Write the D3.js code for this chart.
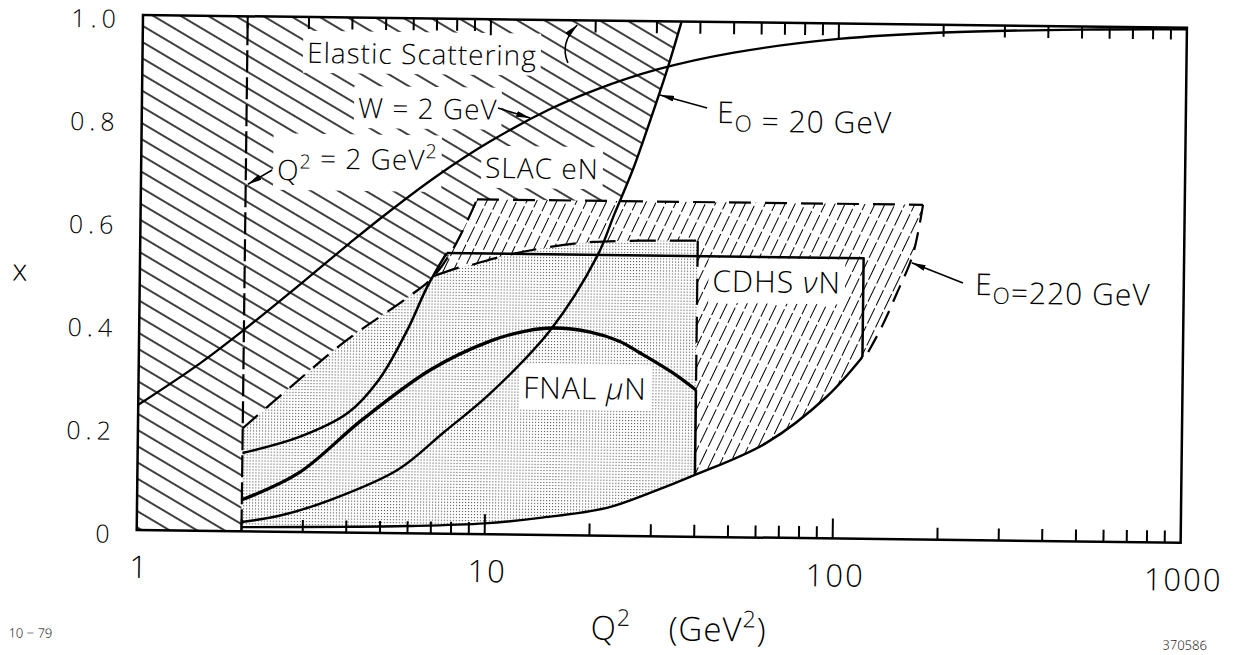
<!DOCTYPE html>
<html>
<head>
<meta charset="utf-8">
<script src="https://cdn.jsdelivr.net/npm/d3@7"></script>
<style>
  html, body { margin: 0; padding: 0; background: #fff; }
  svg { display: block; font-family: "Open Sans", "DejaVu Sans", sans-serif; font-weight: 300; }
</style>
</head>
<body>
<svg id="chart" width="1237" height="655"></svg>
<script>
// ---- axis ticks ----
const xTickValues = [0, 0.2, 0.4, 0.6, 0.8, 1.0];
const xTickLabels = ["0", "0.2", "0.4", "0.6", "0.8", "1.0"];
const q2TickValues = [1, 10, 100, 1000];
const q2TickLabels = ["1", "10", "100", "1000"];

// ---- kinematic boundaries, [Q² (GeV²), x] ----
const w2GeV = [[1,0.243],[1.5,0.325],[2,0.391],[3,0.49],[4,0.562],[5,0.616],[7,0.692],[10,0.762],
  [15,0.828],[20,0.865],[30,0.906],[50,0.941],[100,0.97],[200,0.985],[500,0.994],[1000,0.997]];
const e20GeV = [[2,0.018],[2.6,0.032],[3.6,0.063],[5.6,0.123],[7.6,0.198],[10.2,0.272],[15.2,0.398],
  [20.6,0.543],[23,0.625],[26,0.715],[29,0.81],[32,0.9],[35.3,1.0]];
const q2Cut = [[2,0],[2,1]];
const lowerBound = [[2,0.008],[4,0.011],[6,0.014],[10,0.021],[14.4,0.033],[22.4,0.054],[30,0.085],
  [40,0.12],[64,0.184],[95,0.275],[120,0.353]];
// CDHS νN: solid acceptance edge and box
const cdhsEdge = [[2,0.152],[2.9,0.184],[4,0.232],[4.9,0.297],[5.9,0.395],[6.7,0.479],[7.6,0.545]];
const cdhsBox = [[7.6,0.545],[120,0.545],[120,0.353]];
// E0 = 220 GeV dashed envelope
const envLeft = [[2,0.2],[2.67,0.275],[3.96,0.374],[5.87,0.457],[6.96,0.498],[8.1,0.565],[9.25,0.65]];
const envTop = [[9.25,0.65],[177,0.65]];
const e220GeV = [[177,0.65],[166,0.552],[150,0.478],[136,0.412],[124,0.36]];
// FNAL μN
const fnalArc = [[2,0.061],[2.9,0.114],[4.4,0.219],[6.9,0.318],[10.2,0.375],[13,0.396],[15.5,0.402],
  [19.8,0.395],[24,0.378],[27.5,0.356],[34.2,0.318],[40,0.285]];
const fnalCut = [[40,0.285],[40,0.12]];
const fnalDashed = [[7,0.5],[8.15,0.516],[8.9,0.522],[11,0.54],[14.4,0.557],[20,0.57],[40,0.575]];
const fnalDashedCut = [[40,0.575],[40,0.285]];

// ---- layout ----
const svg = d3.select("#chart");
svg.append("rect").attr("width", 1237).attr("height", 655).attr("fill", "#fff");
const root = svg.append("g").attr("transform", "rotate(0.7,143,15)");

const x = d3.scaleLog().domain([1, 1000]).range([143, 1187]);
const y = d3.scaleLinear().domain([0, 1]).range([530, 15]);

const smooth = d3.line().x(d => x(d[0])).y(d => y(d[1])).curve(d3.curveCatmullRom.alpha(0.5));
const straight = d3.line().x(d => x(d[0])).y(d => y(d[1]));
const joinPaths = (...parts) => parts.map((p, i) => i ? p.replace(/^M/, "L") : p).join("") + "Z";
const rev = a => a.slice().reverse();

// ---- fill patterns ----
const defs = svg.append("defs");
const back = defs.append("pattern").attr("id", "hatchBack").attr("patternUnits", "userSpaceOnUse")
  .attr("width", 40).attr("height", 14).attr("patternTransform", "rotate(30)");
back.append("line").attr("x1", 0).attr("x2", 40).attr("y1", 7).attr("y2", 7)
  .attr("stroke", "#000").attr("stroke-width", 1.6);

const fwd = defs.append("pattern").attr("id", "hatchFwd").attr("patternUnits", "userSpaceOnUse")
  .attr("width", 9).attr("height", 40).attr("patternTransform", "rotate(25)");
fwd.append("line").attr("x1", 4.5).attr("x2", 4.5).attr("y1", 0).attr("y2", 40)
  .attr("stroke", "#000").attr("stroke-width", 1).attr("stroke-dasharray", "17,3");

const dots = defs.append("pattern").attr("id", "stipple").attr("patternUnits", "userSpaceOnUse")
  .attr("width", 3).attr("height", 3);
dots.append("rect").attr("width", 1.1).attr("height", 1.1).attr("fill", "#555");

const marker = defs.append("marker").attr("id", "arrow").attr("viewBox", "0 0 14 6")
  .attr("refX", 14).attr("refY", 3).attr("markerWidth", 14).attr("markerHeight", 6)
  .attr("markerUnits", "userSpaceOnUse").attr("orient", "auto");
marker.append("path").attr("d", "M0,0 L14,3 L0,6 Z").attr("fill", "#000");

// ---- regions ----
const regions = root.append("g");
// Q² < 2 GeV² strip
regions.append("path").attr("d", straight([[1,0],[1,1],[2,1],[2,0]]) + "Z").attr("fill", "url(#hatchBack)");
// SLAC eN (left of the E0 = 20 GeV limit)
regions.append("path")
  .attr("d", joinPaths(straight([[2,0.2],[2,1],[35.3,1]]), smooth(rev(e20GeV)), straight([[2,0.018],[2,0.2]])))
  .attr("fill", "url(#hatchBack)");
// CDHS νN envelope
const cdhsArea = joinPaths(smooth(envLeft), straight(envTop), smooth(e220GeV),
  straight([[124,0.36],[120,0.353]]), smooth(rev(lowerBound)), straight([[2,0.008],[2,0.2]]));
regions.append("path").attr("d", cdhsArea).attr("fill", "#fff");
regions.append("path").attr("d", cdhsArea).attr("fill", "url(#hatchFwd)");
// FNAL μN stippled area
const fnalArea = joinPaths(smooth(lowerBound.filter(d => d[0] <= 40)), straight([[40,0.12],[40,0.575]]),
  smooth(rev(fnalDashed)), smooth(rev(envLeft.filter(d => d[0] <= 6.96))), straight([[2,0.2],[2,0.008]]));
regions.append("path").attr("d", fnalArea).attr("fill", "#fff");
regions.append("path").attr("d", fnalArea).attr("fill", "url(#stipple)");

// ---- annotations (text anchors in data coordinates) ----
const notes = [
  { q: 2.97, v: 0.911, size: 28, parts: [["Elastic Scattering"]] },
  { q: 4.18, v: 0.805, size: 28, parts: [["W = 2 GeV"]] },
  { q: 2.46, v: 0.683, size: 28, parts: [["Q"], ["2", "sup"], [" = 2 GeV"], ["2", "sup"]] },
  { q: 9.74, v: 0.692, size: 28, parts: [["SLAC eN"]] },
  { q: 45.0, v: 0.804, size: 30, parts: [["E"], ["O", "sub"], [" = 20 GeV"]] },
  { q: 44.2, v: 0.476, size: 30, parts: [["CDHS "], ["ν", "it"], ["N"]] },
  { q: 251.5, v: 0.476, size: 30, parts: [["E"], ["O", "sub"], ["=220 GeV"]] },
  { q: 12.75, v: 0.265, size: 30, parts: [["FNAL "], ["μ", "it"], ["N"]] }
];
const bgLayer = root.append("g");
const lineLayer = root.append("g");
const textLayer = root.append("g");

function writeParts(t, parts, size) {
  parts.forEach(([s, kind]) => {
    const sp = t.append("tspan").text(s);
    if (kind === "sup") sp.attr("font-size", size * 0.7).attr("dy", -size * 0.42);
    else if (kind === "sub") sp.attr("font-size", size * 0.75).attr("dy", size * 0.28);
    else if (kind === "it") sp.attr("font-style", "italic");
    if (kind === "sup" || kind === "sub") t.append("tspan").attr("dy", kind === "sup" ? size * 0.42 : -size * 0.28).text("");
  });
}
notes.forEach(n => {
  const t = textLayer.append("text").attr("x", x(n.q)).attr("y", y(n.v))
    .attr("font-size", n.size).attr("letter-spacing", 1).attr("fill", "#000");
  writeParts(t, n.parts, n.size);
  const b = t.node().getBBox();
  bgLayer.append("rect").attr("x", b.x - 4).attr("y", b.y - 2).attr("width", b.width + 8)
    .attr("height", b.height + 4).attr("fill", "#fff");
});

// ---- boundary lines ----
const draw = (d, w, dash) => lineLayer.append("path").attr("d", d).attr("fill", "none")
  .attr("stroke", "#000").attr("stroke-width", w).attr("stroke-dasharray", dash || null)
  .attr("stroke-linejoin", "round");
draw(straight(q2Cut), 2.2, "22,5");
draw(smooth(envLeft), 2.2, "20,11");
draw(straight(envTop), 2.2, "22,14");
draw(smooth(e220GeV), 2.2, "18,10");
draw(smooth(fnalDashed), 2.2, "26,14");
draw(straight(fnalDashedCut), 2.2, "26,12");
draw(smooth(w2GeV), 2.3);
draw(smooth(e20GeV), 2.4);
draw(smooth(lowerBound), 2.4);
draw(smooth(cdhsEdge), 2.5);
draw(straight(cdhsBox), 2.5);
draw(smooth(fnalArc), 3.3);
draw(straight(fnalCut), 2.5);

// ---- arrows ----
const arrows = [
  { d: "M" + x(16.7) + "," + y(0.917) + " Q" + (x(16.7) - 9) + "," + y(0.955) + " " + x(17.7) + "," + y(0.991) },
  { d: straight([[10.55,0.828],[13.06,0.809]]) },
  { d: straight([[2.38,0.702],[2.03,0.674]]) },
  { d: straight([[42.1,0.833],[30.8,0.857]]) },
  { d: straight([[232,0.499],[165,0.537]]) }
];
arrows.forEach(a => lineLayer.append("path").attr("d", a.d).attr("fill", "none")
  .attr("stroke", "#000").attr("stroke-width", 1.6).attr("marker-end", "url(#arrow)"));

// ---- frame and ticks ----
const axes = root.append("g");
axes.append("rect").attr("x", x(1)).attr("y", y(1)).attr("width", x(1000) - x(1))
  .attr("height", y(0) - y(1)).attr("fill", "none").attr("stroke", "#000").attr("stroke-width", 2.5);
x.ticks().filter(t => t > 1 && t < 1000).forEach(t => {
  const major = Math.abs(Math.log10(t) - Math.round(Math.log10(t))) < 1e-9;
  axes.append("line").attr("x1", x(t)).attr("x2", x(t)).attr("y1", y(1)).attr("y2", y(1) + (major ? 16 : 12))
    .attr("stroke", "#000").attr("stroke-width", 2);
  axes.append("line").attr("x1", x(t)).attr("x2", x(t)).attr("y1", y(0)).attr("y2", y(0) - (major ? 20 : 12))
    .attr("stroke", "#000").attr("stroke-width", 2);
});

// value labels on the left, baseline placed so the digits sit centred on each level
const yLabelSize = 25;
xTickValues.forEach((v, i) => axes.append("text").attr("x", x(1) - 22).attr("y", y(v) + 4 + 0.357 * yLabelSize)
  .attr("text-anchor", "end").attr("font-size", yLabelSize)
  .attr("letter-spacing", 5).text(xTickLabels[i]));
q2TickValues.forEach((v, i) => axes.append("text").attr("x", x(v) + 3).attr("y", y(0) + 48)
  .attr("text-anchor", "middle").attr("font-size", 31)
  .attr("letter-spacing", 2).text(q2TickLabels[i]));

// axis titles
axes.append("text").attr("x", 23).attr("y", 282).attr("text-anchor", "middle")
  .attr("font-size", 30).text("x");
const title = axes.append("text").attr("x", 598).attr("y", 634).attr("font-size", 33).attr("letter-spacing", 1);
title.append("tspan").text("Q");
title.append("tspan").attr("font-size", 23).attr("dy", -14).text("2");
title.append("tspan").attr("x", 676).attr("dy", 14).text("(GeV");
title.append("tspan").attr("font-size", 23).attr("dy", -14).text("2");
title.append("tspan").attr("dy", 14).text(")");

axes.append("text").attr("x", 16).attr("y", 639).attr("font-size", 13).text("10 − 79");
axes.append("text").attr("x", 1170).attr("y", 637).attr("font-size", 13).text("370586");
</script>
</body>
</html>
